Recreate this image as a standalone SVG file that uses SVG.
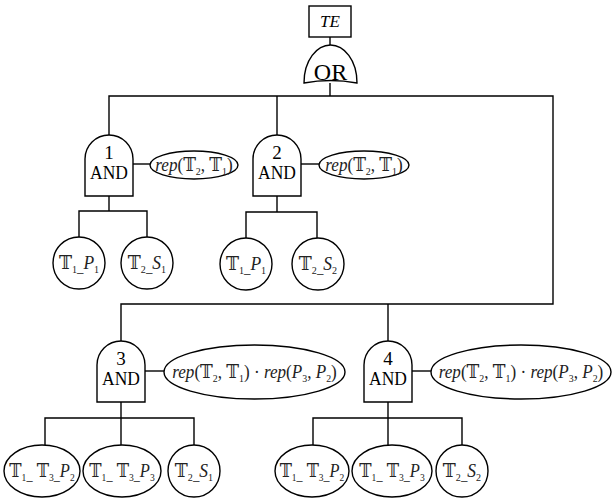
<svg xmlns="http://www.w3.org/2000/svg" width="612" height="501" viewBox="0 0 612 501">
  <style>
    .ln { fill: none; stroke: #000; stroke-width: 1.4; }
    .sh { fill: #fff; stroke: #000; stroke-width: 1.4; }
    text { font-family: "Liberation Serif", "DejaVu Serif", "DejaVu Sans", serif; fill: #000; text-anchor: middle; }
    .g { font-size: 19px; }
    .or { font-size: 24px; }
    .te { font-size: 17px; font-style: italic; }
    .lab { font-size: 19px; fill: #222; }
    .it { font-style: italic; }
    .sub { font-size: 11px; }
  </style>
  <defs>
    <!-- AND gate outline, origin at top-centre -->
    <path id="andGate" d="M -24,61 V 24 A 24 24 0 0 1 24,24 V 61 Z"/>
  </defs>

  <!-- connectors -->
  <g id="connectors" class="ln">
    <line x1="330" y1="37" x2="330" y2="45"/>
    <line x1="330" y1="83" x2="330" y2="96"/>
    <polyline points="109,135 109,96 553,96 553,304 121,304 121,341"/>
    <line x1="277" y1="96" x2="277" y2="135"/>
    <line x1="388" y1="304" x2="388" y2="341"/>
    <!-- gate 1 -->
    <line x1="133" y1="164" x2="150" y2="164"/>
    <polyline points="109,196 109,211"/>
    <polyline points="79,238 79,211 147,211 147,238"/>
    <!-- gate 2 -->
    <line x1="301" y1="164" x2="319" y2="164"/>
    <polyline points="277,196 277,212"/>
    <polyline points="246,238 246,212 317,212 317,238"/>
    <!-- gate 3 -->
    <line x1="145" y1="371" x2="164" y2="371"/>
    <polyline points="121,402 121,445"/>
    <polyline points="45,445 45,418 194,418 194,445"/>
    <!-- gate 4 -->
    <line x1="412" y1="371" x2="431" y2="371"/>
    <polyline points="388,402 388,445"/>
    <polyline points="313,445 313,418 462,418 462,445"/>
  </g>

  <g id="top-event">
    <rect class="sh" x="309" y="6" width="42" height="31"/>
    <text class="te" x="330" y="27">TE</text>
  </g>

  <g id="or-gate">
    <path class="sh" d="M 304,83 C 304,60 317,45 330.5,45 C 344,45 357,60 357,83 Q 330.5,78 304,83 Z"/>
    <text class="or" x="330.5" y="80">OR</text>
  </g>

  <g id="gate1">
    <use href="#andGate" class="sh" x="109" y="135"/>
    <text class="g" x="109" y="159">1</text>
    <text class="g" transform="translate(109,179) scale(0.92,1)">AND</text>
  </g>
  <g id="rep1">
    <ellipse class="sh" cx="194" cy="165" rx="44" ry="14"/>
    <text class="lab" transform="translate(194,171) scale(0.9,1)"><tspan class="it">rep</tspan>(𝕋<tspan class="sub" dy="4">2</tspan><tspan dy="-4">, 𝕋</tspan><tspan class="sub" dy="4">1</tspan><tspan dy="-4">)</tspan></text>
  </g>
  <g id="e1">
    <circle class="sh" cx="79" cy="263" r="26"/>
    <text class="lab" transform="translate(79,269) scale(0.92,1)">𝕋<tspan class="sub" dy="4">1</tspan><tspan dy="-1" font-size="14">_</tspan><tspan class="it" dy="-3">P</tspan><tspan class="sub" dy="4">1</tspan></text>
  </g>
  <g id="e2">
    <circle class="sh" cx="147" cy="263" r="26"/>
    <text class="lab" transform="translate(147,269) scale(0.92,1)">𝕋<tspan class="sub" dy="4">2</tspan><tspan dy="-1" font-size="14">_</tspan><tspan class="it" dy="-3">S</tspan><tspan class="sub" dy="4">1</tspan></text>
  </g>

  <g id="gate2">
    <use href="#andGate" class="sh" x="277" y="135"/>
    <text class="g" x="277" y="159">2</text>
    <text class="g" transform="translate(277,179) scale(0.92,1)">AND</text>
  </g>
  <g id="rep2">
    <ellipse class="sh" cx="364" cy="165" rx="45" ry="14"/>
    <text class="lab" transform="translate(364,171) scale(0.9,1)"><tspan class="it">rep</tspan>(𝕋<tspan class="sub" dy="4">2</tspan><tspan dy="-4">, 𝕋</tspan><tspan class="sub" dy="4">1</tspan><tspan dy="-4">)</tspan></text>
  </g>
  <g id="e3">
    <circle class="sh" cx="246" cy="264" r="26"/>
    <text class="lab" transform="translate(246,270) scale(0.92,1)">𝕋<tspan class="sub" dy="4">1</tspan><tspan dy="-1" font-size="14">_</tspan><tspan class="it" dy="-3">P</tspan><tspan class="sub" dy="4">1</tspan></text>
  </g>
  <g id="e4">
    <circle class="sh" cx="318" cy="264" r="26"/>
    <text class="lab" transform="translate(318,270) scale(0.92,1)">𝕋<tspan class="sub" dy="4">2</tspan><tspan dy="-1" font-size="14">_</tspan><tspan class="it" dy="-3">S</tspan><tspan class="sub" dy="4">2</tspan></text>
  </g>

  <g id="gate3">
    <use href="#andGate" class="sh" x="121" y="341"/>
    <text class="g" x="121" y="365">3</text>
    <text class="g" transform="translate(121,385) scale(0.92,1)">AND</text>
  </g>
  <g id="rep3">
    <ellipse class="sh" cx="254.5" cy="372" rx="90.5" ry="27"/>
    <text class="lab" transform="translate(254.5,378) scale(0.9,1)"><tspan class="it">rep</tspan>(𝕋<tspan class="sub" dy="4">2</tspan><tspan dy="-4">, 𝕋</tspan><tspan class="sub" dy="4">1</tspan><tspan dy="-4">) · </tspan><tspan class="it">rep</tspan>(<tspan class="it">P</tspan><tspan class="sub" dy="4">3</tspan><tspan dy="-4">, </tspan><tspan class="it">P</tspan><tspan class="sub" dy="4">2</tspan><tspan dy="-4">)</tspan></text>
  </g>
  <g id="e5">
    <ellipse class="sh" cx="42" cy="471" rx="38" ry="26"/>
    <text class="lab" transform="translate(42,477) scale(0.87,1)">𝕋<tspan class="sub" dy="4">1</tspan><tspan dy="-1" font-size="14">_</tspan><tspan dy="-3"> 𝕋</tspan><tspan class="sub" dy="4">3</tspan><tspan dy="-1" font-size="14">_</tspan><tspan class="it" dy="-3">P</tspan><tspan class="sub" dy="4">2</tspan></text>
  </g>
  <g id="e6">
    <ellipse class="sh" cx="122" cy="471" rx="39" ry="26"/>
    <text class="lab" transform="translate(122,477) scale(0.87,1)">𝕋<tspan class="sub" dy="4">1</tspan><tspan dy="-1" font-size="14">_</tspan><tspan dy="-3"> 𝕋</tspan><tspan class="sub" dy="4">3</tspan><tspan dy="-1" font-size="14">_</tspan><tspan class="it" dy="-3">P</tspan><tspan class="sub" dy="4">3</tspan></text>
  </g>
  <g id="e7">
    <circle class="sh" cx="194" cy="471" r="26"/>
    <text class="lab" transform="translate(194,477) scale(0.92,1)">𝕋<tspan class="sub" dy="4">2</tspan><tspan dy="-1" font-size="14">_</tspan><tspan class="it" dy="-3">S</tspan><tspan class="sub" dy="4">1</tspan></text>
  </g>

  <g id="gate4">
    <use href="#andGate" class="sh" x="388" y="341"/>
    <text class="g" x="388" y="365">4</text>
    <text class="g" transform="translate(388,385) scale(0.92,1)">AND</text>
  </g>
  <g id="rep4">
    <ellipse class="sh" cx="521" cy="372" rx="90" ry="27"/>
    <text class="lab" transform="translate(521,378) scale(0.9,1)"><tspan class="it">rep</tspan>(𝕋<tspan class="sub" dy="4">2</tspan><tspan dy="-4">, 𝕋</tspan><tspan class="sub" dy="4">1</tspan><tspan dy="-4">) · </tspan><tspan class="it">rep</tspan>(<tspan class="it">P</tspan><tspan class="sub" dy="4">3</tspan><tspan dy="-4">, </tspan><tspan class="it">P</tspan><tspan class="sub" dy="4">2</tspan><tspan dy="-4">)</tspan></text>
  </g>
  <g id="e8">
    <ellipse class="sh" cx="312" cy="471" rx="37" ry="26"/>
    <text class="lab" transform="translate(312,477) scale(0.86,1)">𝕋<tspan class="sub" dy="4">1</tspan><tspan dy="-1" font-size="14">_</tspan><tspan dy="-3"> 𝕋</tspan><tspan class="sub" dy="4">3</tspan><tspan dy="-1" font-size="14">_</tspan><tspan class="it" dy="-3">P</tspan><tspan class="sub" dy="4">2</tspan></text>
  </g>
  <g id="e9">
    <ellipse class="sh" cx="392" cy="471" rx="40" ry="26"/>
    <text class="lab" transform="translate(392,477) scale(0.87,1)">𝕋<tspan class="sub" dy="4">1</tspan><tspan dy="-1" font-size="14">_</tspan><tspan dy="-3"> 𝕋</tspan><tspan class="sub" dy="4">3</tspan><tspan dy="-1" font-size="14">_</tspan><tspan class="it" dy="-3">P</tspan><tspan class="sub" dy="4">3</tspan></text>
  </g>
  <g id="e10">
    <circle class="sh" cx="462" cy="471" r="26"/>
    <text class="lab" transform="translate(462,477) scale(0.92,1)">𝕋<tspan class="sub" dy="4">2</tspan><tspan dy="-1" font-size="14">_</tspan><tspan class="it" dy="-3">S</tspan><tspan class="sub" dy="4">2</tspan></text>
  </g>
</svg>
